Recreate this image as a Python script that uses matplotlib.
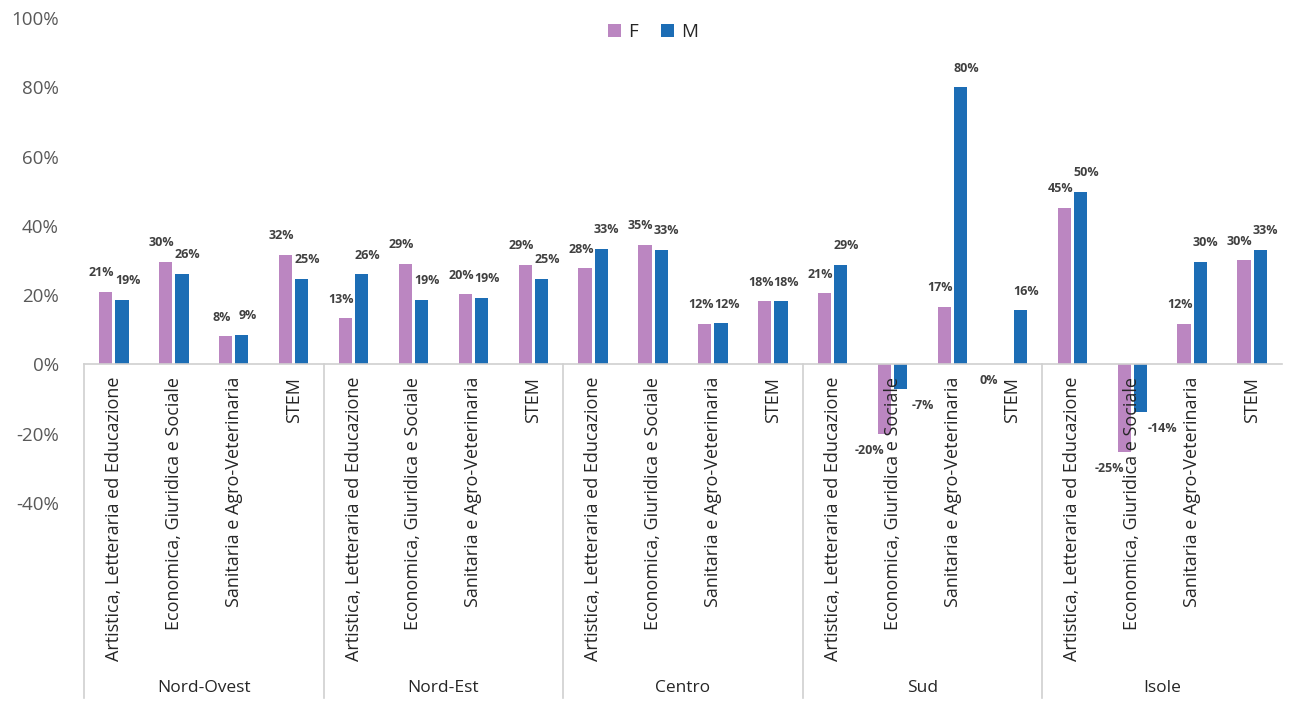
import matplotlib
matplotlib.use("Agg")
import matplotlib.pyplot as plt
from matplotlib.lines import Line2D
import numpy as np

regions = ["Nord-Ovest", "Nord-Est", "Centro", "Sud", "Isole"]
fields = [
    "Artistica, Letteraria ed Educazione",
    "Economica, Giuridica e Sociale",
    "Sanitaria e Agro-Veterinaria",
    "STEM",
]
# variazione percentuale, ordine: regione x area disciplinare
f_values = [0.21, 0.297, 0.081, 0.317,
            0.133, 0.29, 0.202, 0.288,
            0.277, 0.346, 0.118, 0.182,
            0.206, -0.202, 0.167, 0.0,
            0.452, -0.254, 0.118, 0.30]
m_values = [0.187, 0.262, 0.086, 0.247,
            0.26, 0.187, 0.193, 0.248,
            0.334, 0.331, 0.119, 0.182,
            0.288, -0.072, 0.80, 0.156,
            0.499, -0.138, 0.297, 0.331]
yticks = [-0.4, -0.2, 0.0, 0.2, 0.4, 0.6, 0.8, 1.0]

F_COLOR = "#BB86C1"
M_COLOR = "#1C6DB5"
GRID = "#D0D0D0"
TXT = "#262626"

plt.rcParams["font.family"] = ["Open Sans", "DejaVu Sans"]

fig = plt.figure(figsize=(12.93, 7.13), dpi=100)
ax = fig.add_axes([84 / 1293, 1 - 503 / 713, (1282 - 84) / 1293, (503 - 18) / 713])

n = len(f_values)
x = np.arange(n) + 0.5
w = 0.22
off = 0.135
bf = ax.bar(x - off, f_values, w, color=F_COLOR, label="F")
bm = ax.bar(x + off, m_values, w, color=M_COLOR, label="M")

ax.set_xlim(0, n)
ax.set_ylim(-0.4, 1.0)
ax.set_yticks(yticks)
ax.set_yticklabels([f"{v:.0%}" for v in yticks], fontsize=13.5, color="#595959")
ax.tick_params(axis="y", length=0, pad=18)
ax.set_xticks([])
for s in ["top", "right", "left"]:
    ax.spines[s].set_visible(False)
ax.spines["bottom"].set_position(("data", 0))
ax.spines["bottom"].set_color(GRID)
ax.spines["bottom"].set_linewidth(1.2)

# data labels (Excel pushes neighbouring labels apart a little)
for xs, vals, side in [(x - off, f_values, -1), (x + off, m_values, 1)]:
    for xi, v in zip(xs, vals):
        if v > 0:
            dx = -3 if side < 0 else 4
            ax.annotate(f"{v:.0%}", (xi, v), xytext=(dx, 9), textcoords="offset points",
                        ha="center", va="bottom", fontsize=9, fontweight="bold",
                        color="#404040")
        else:
            dx = -11 if side < 0 else 16
            ax.annotate(f"{v:.0%}", (xi, v), xytext=(dx, -7), textcoords="offset points",
                        ha="center", va="top", fontsize=9, fontweight="bold",
                        color="#404040")

# category labels below the zero line
for i, xi in enumerate(x):
    ax.annotate(fields[i % len(fields)], (xi, 0), xytext=(0, -9),
                textcoords="offset points", rotation=90, ha="center", va="top",
                fontsize=13, color=TXT, annotation_clip=False)

# group separators and region names
to_fig = fig.transFigure.inverted()
sep_bottom = 1 - 698 / 713
for g, name in enumerate(regions):
    xl = g * len(fields)
    fx, fy0 = to_fig.transform(ax.transData.transform((xl, 0)))
    fig.add_artist(Line2D([fx, fx], [fy0, sep_bottom], color=GRID, lw=1.2))
    cx = to_fig.transform(ax.transData.transform((xl + len(fields) / 2, 0)))[0]
    fig.text(cx, 1 - 688 / 713, name, ha="center", va="center", fontsize=12.5, color=TXT)

leg = fig.legend(handles=[bf, bm], loc="center", bbox_to_anchor=(0.505, 1 - 32 / 713),
                 ncol=2, frameon=False, fontsize=13.5, handlelength=0.7, handleheight=0.7,
                 handletextpad=0.4, columnspacing=1.2)
for t in leg.get_texts():
    t.set_color(TXT)

fig.savefig("out.png", dpi=100)
